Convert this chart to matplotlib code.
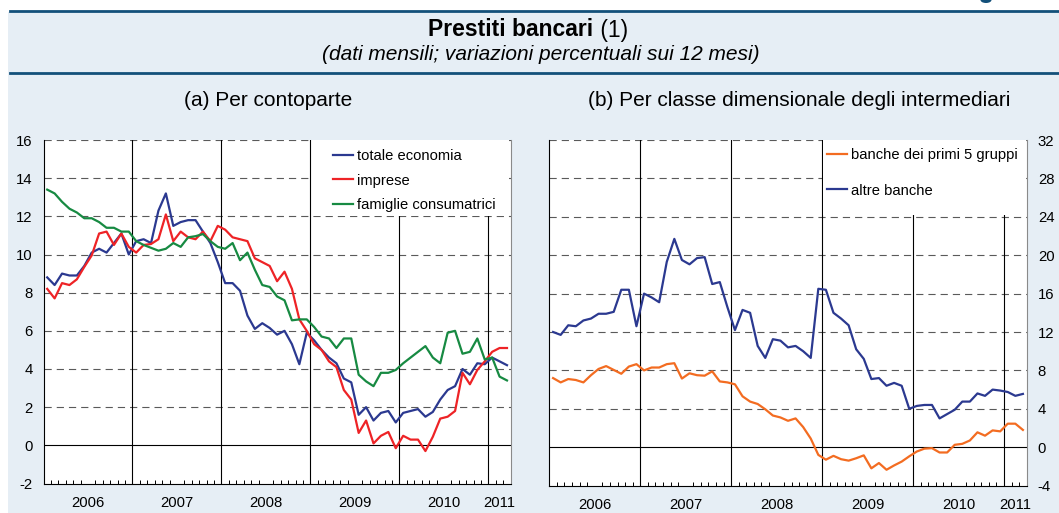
import matplotlib
matplotlib.use("Agg")
import matplotlib.pyplot as plt
from matplotlib.patches import Rectangle, Ellipse
from matplotlib.lines import Line2D

plt.rcParams['font.family'] = ['Liberation Sans', 'DejaVu Sans']
plt.rcParams['axes.unicode_minus'] = False

years = ['2006', '2007', '2008', '2009', '2010', '2011']

# dati mensili, gen 2006 - mar 2011
totale_economia = [8.8, 8.4, 9.0, 8.9, 8.9, 9.4, 10.1, 10.3, 10.1, 10.6, 11.1, 10.0,
                   10.7, 10.8, 10.6, 12.3, 13.2, 11.5, 11.7, 11.8, 11.8, 11.2, 10.6, 9.6,
                   8.5, 8.5, 8.1, 6.8, 6.1, 6.4, 6.15, 5.8, 6.0, 5.3, 4.25, 5.9,
                   5.5, 5.0, 4.6, 4.3, 3.5, 3.3, 1.6, 2.0, 1.3, 1.7, 1.8, 1.2,
                   1.7, 1.8, 1.9, 1.5, 1.75, 2.4, 2.9, 3.1, 4.0, 3.7, 4.3, 4.25,
                   4.6, 4.4, 4.2]
imprese = [8.2, 7.7, 8.5, 8.4, 8.7, 9.35, 9.95, 11.1, 11.2, 10.5, 11.1, 10.4,
           10.1, 10.5, 10.55, 10.8, 12.1, 10.7, 11.2, 10.9, 10.8, 11.2, 10.7, 11.5,
           11.3, 10.9, 10.8, 10.7, 9.8, 9.6, 9.4, 8.6, 9.1, 8.2, 6.6, 6.0,
           5.3, 5.0, 4.4, 4.1, 2.9, 2.4, 0.65, 1.3, 0.1, 0.5, 0.7, -0.15,
           0.5, 0.3, 0.3, -0.3, 0.45, 1.4, 1.5, 1.8, 3.8, 3.2, 3.95, 4.4,
           4.9, 5.1, 5.1]
famiglie = [13.4, 13.2, 12.76, 12.4, 12.2, 11.9, 11.9, 11.7, 11.4, 11.4, 11.2, 11.2,
            10.7, 10.5, 10.35, 10.2, 10.3, 10.6, 10.4, 10.9, 10.96, 11.07, 10.7, 10.4,
            10.3, 10.6, 9.7, 10.1, 9.2, 8.4, 8.3, 7.8, 7.6, 6.55, 6.6, 6.6,
            6.2, 5.7, 5.6, 5.1, 5.6, 5.6, 3.7, 3.35, 3.1, 3.8, 3.8, 3.95,
            4.3, 4.6, 4.9, 5.2, 4.6, 4.3, 5.9, 6.0, 4.8, 4.9, 5.6, 4.5,
            4.6, 3.6, 3.4]
primi_5_gruppi = [7.2, 6.75, 7.1, 7.0, 6.75, 7.5, 8.15, 8.45, 8.05, 7.65, 8.4, 8.65,
                  8.0, 8.3, 8.3, 8.65, 8.75, 7.15, 7.7, 7.5, 7.45, 7.9, 6.85, 6.75,
                  6.55, 5.3, 4.75, 4.5, 3.95, 3.3, 3.1, 2.75, 3.0, 2.1, 0.9, -0.8,
                  -1.3, -0.9, -1.25, -1.4, -1.15, -0.85, -2.2, -1.65, -2.35, -1.9, -1.5, -0.95,
                  -0.45, -0.15, -0.1, -0.55, -0.55, 0.25, 0.35, 0.7, 1.55, 1.2, 1.75, 1.65,
                  2.45, 2.45, 1.8]
altre_banche = [12.0, 11.7, 12.7, 12.6, 13.2, 13.4, 13.9, 13.9, 14.1, 16.4, 16.4, 12.6,
                16.0, 15.6, 15.1, 19.3, 21.7, 19.5, 19.05, 19.7, 19.8, 17.0, 17.2, 14.6,
                12.2, 14.3, 14.0, 10.55, 9.3, 11.25, 11.1, 10.4, 10.55, 10.0, 9.3, 16.5,
                16.4, 14.0, 13.4, 12.7, 10.2, 9.2, 7.1, 7.2, 6.4, 6.7, 6.4, 4.0,
                4.3, 4.4, 4.4, 3.0, 3.45, 3.9, 4.75, 4.75, 5.6, 5.35, 6.0, 5.9,
                5.75, 5.35, 5.55]

yticks_a = [-2, 0, 2, 4, 6, 8, 10, 12, 14, 16]
yticks_b = [-4, 0, 4, 8, 12, 16, 20, 24, 28, 32]

n = len(totale_economia)
x = [i + 0.5 for i in range(n)]

W, H = 1059, 513
BG = '#e6eef5'
DARK = '#13507a'


def setup(ax, yticks, side):
    ax.set_facecolor('white')
    ax.set_xlim(0, n)
    ax.set_ylim(yticks[0], yticks[-1])
    for y in yticks[1:]:
        if y == 0:
            ax.axhline(y, color='black', lw=0.8, zorder=2)
        else:
            ax.axhline(y, color='#5a5a5a', lw=0.8, ls=(0, (6.5, 4.5)), zorder=2)
    for k in range(1, len(years)):
        ax.axvline(12 * k, color='black', lw=0.8, zorder=2)
    ax.spines['top'].set_visible(False)
    ax.spines['left'].set_color('black')
    ax.spines['right'].set_color('#8a8a8a')
    ax.spines['bottom'].set_color('black')
    for s in ax.spines.values():
        s.set_linewidth(0.8)
    centers = [(12 * k + min(12 * k + 12, n)) / 2 for k in range(len(years))]
    ax.set_xticks(centers)
    ax.set_xticklabels(years)
    ax.set_xticks(range(0, n + 1), minor=True)
    ax.tick_params(axis='x', which='major', length=0, pad=9, labelsize=10.7)
    ax.tick_params(axis='x', which='minor', direction='in', length=3, width=0.7, color='black')
    ax.set_yticks(yticks)
    if side == 'right':
        ax.yaxis.tick_right()
    ax.tick_params(axis='y', length=0, pad=8, labelsize=10.7)


fig = plt.figure(figsize=(W / 100, H / 100), dpi=100)
fig.patch.set_facecolor('white')
fig.add_artist(Rectangle((8 / W, 0), 1 - 8 / W, 1 - 12 / H, transform=fig.transFigure,
                         facecolor=BG, edgecolor='none', zorder=0))
for yy in [11, 73]:
    fig.add_artist(Line2D([10 / W, 1], [1 - yy / H] * 2, color=DARK, lw=2))
# pezzo del glifo tagliato in alto a destra
fig.add_artist(Ellipse((986 / W, 1.0), 11 / W, 6 / H, transform=fig.transFigure,
                       facecolor=DARK, edgecolor='none'))

fig.text(0.5605, 1 - 30 / H, 'Prestiti bancari', fontsize=16.5, fontweight='bold', ha='right', va='center')
fig.text(0.5605, 1 - 30 / H, ' (1)', fontsize=16.5, ha='left', va='center')
fig.text(541 / W, 1 - 55 / H, '(dati mensili; variazioni percentuali sui 12 mesi)', fontsize=15,
         style='italic', ha='center', va='center')
fig.text(268 / W, 1 - 101 / H, '(a) Per contoparte', fontsize=15, ha='center', va='center')
fig.text(799 / W, 1 - 101 / H, '(b) Per classe dimensionale degli intermediari', fontsize=15,
         ha='center', va='center')

ax1 = fig.add_axes([43.5 / W, 1 - 483.5 / H, 467.2 / W, 343.5 / H])
setup(ax1, yticks_a, 'left')
ax1.add_patch(Rectangle((0.575, 0.779), 0.421, 0.221, transform=ax1.transAxes,
                        facecolor='white', edgecolor='none', zorder=2.5))
ax1.plot(x, totale_economia, color='#2b3990', lw=1.6, zorder=3, label='totale economia')
ax1.plot(x, imprese, color='#ee2326', lw=1.6, zorder=3, label='imprese')
ax1.plot(x, famiglie, color='#178a42', lw=1.6, zorder=3, label='famiglie consumatrici')
leg1 = ax1.legend(loc='upper left', bbox_to_anchor=(0.619, 0.974), frameon=False,
                  fontsize=10.6, borderpad=0, borderaxespad=0, handlelength=1.4,
                  handletextpad=0.25, labelspacing=0.72)
leg1.set_zorder(4)

ax2 = fig.add_axes([549.3 / W, 1 - 485.6 / H, 477.4 / W, 345.6 / H])
setup(ax2, yticks_b, 'right')
ax2.add_patch(Rectangle((0.573, 0.783), 0.424, 0.217, transform=ax2.transAxes,
                        facecolor='white', edgecolor='none', zorder=2.5))
ax2.plot(x, primi_5_gruppi, color='#f36c21', lw=1.6, zorder=3, label='banche dei primi 5 gruppi')
ax2.plot(x, altre_banche, color='#2b3990', lw=1.6, zorder=3, label='altre banche')
leg2 = ax2.legend(loc='upper left', bbox_to_anchor=(0.581, 0.976), frameon=False,
                  fontsize=10.6, borderpad=0, borderaxespad=0, handlelength=1.4,
                  handletextpad=0.25, labelspacing=1.45)
leg2.set_zorder(4)

fig.savefig('out.png', dpi=100)
